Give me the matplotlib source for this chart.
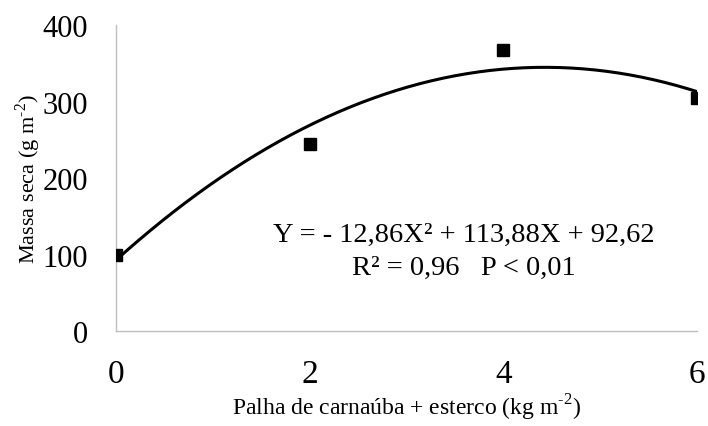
import numpy as np
import matplotlib
matplotlib.use("Agg")
import matplotlib.pyplot as plt

# observed points
dose = [0, 2, 4, 6]
massa = [100, 245, 367, 305]

# fitted quadratic from the chart: Y = -12,86X² + 113,88X + 92,62
coef = [-12.86, 113.88, 92.62]

x_ticks = [0, 2, 4, 6]
y_ticks = [0, 100, 200, 300, 400]

plt.rcParams['font.family'] = ['Liberation Serif', 'DejaVu Serif']
plt.rcParams['mathtext.fontset'] = 'custom'
plt.rcParams['mathtext.rm'] = 'Liberation Serif'

fig = plt.figure(figsize=(7.08, 4.27), dpi=100)
ax = fig.add_axes([0.1638, 0.2225, 0.8207, 0.7165])

xs = np.linspace(min(dose), max(dose), 200)
ax.plot(xs, np.polyval(coef, xs), color='black', linewidth=2.2, zorder=2)
ax.plot(dose, massa, linestyle='none', marker='s', markersize=8, color='black', zorder=3)

ax.set_xlim(0, 6)
ax.set_ylim(0, 400)
ax.set_xticks(x_ticks)
ax.set_yticks(y_ticks)
ax.tick_params(axis='x', length=0, labelsize=24, pad=20)
ax.tick_params(axis='y', length=0, labelsize=22, pad=20)

for s in ['top', 'right']:
    ax.spines[s].set_visible(False)
for s in ['left', 'bottom']:
    ax.spines[s].set_color('#bfbfbf')
    ax.spines[s].set_linewidth(1.0)

ax.set_ylabel('Massa seca (g m$^{\\text{-2}}$)', fontsize=16, labelpad=0)
ax.set_xlabel('Palha de carnaúba + esterco (kg m$^{\\text{-2}}$)', fontsize=17, labelpad=2)

ax.text(3.59, 117.6, 'Y = - 12,86X² + 113,88X + 92,62', fontsize=20.5, ha='center', va='baseline')
ax.text(3.59, 74.5, 'R² = 0,96   P < 0,01', fontsize=20.5, ha='center', va='baseline')

fig.savefig('out.png', dpi=100)
